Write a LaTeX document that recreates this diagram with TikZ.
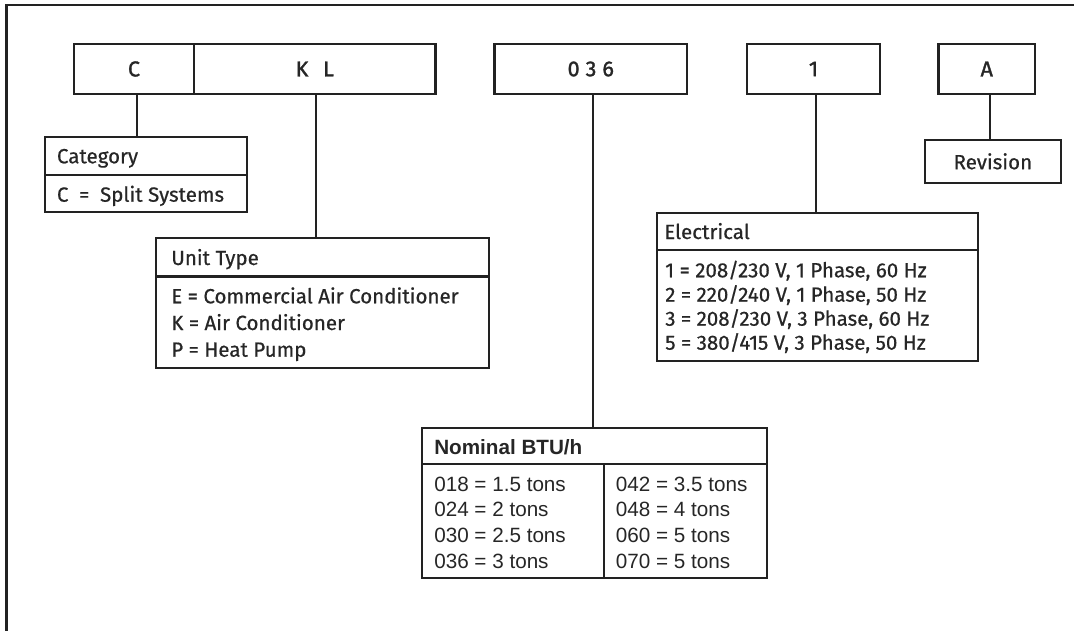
\documentclass[tikz,border=0pt]{standalone}
\usepackage{fontspec}
\setmainfont{Fira Sans}[FakeBold=0.6]
\newfontfamily\topfam{Fira Sans}[FakeBold=1.4]
\newfontfamily\arialf{Liberation Sans}
\definecolor{lc}{HTML}{222222}
\definecolor{tc}{HTML}{262626}
\newcommand\hsf{\fontsize{15.4pt}{18pt}\selectfont}
\newcommand\topf{\topfam\fontsize{16.2pt}{18pt}\selectfont}
\newcommand\arf{\arialf\fontsize{15.5pt}{18pt}\selectfont}
\begin{document}
\begin{tikzpicture}[x=0.75pt,y=-0.75pt,
  box/.style={draw=lc, line width=1.7pt, rectangle, inner sep=0pt, text=tc, font=\hsf},
  topbox/.style={box, font=\topf},
  nbox/.style={draw=lc, line width=1.3pt, rectangle, inner sep=0pt},
  wh/.style 2 args={minimum width=#1*0.75pt, minimum height=#2*0.75pt},
  conn/.style={draw=lc, line width=1.6pt},
  lbl/.style={text=tc, inner sep=0pt, anchor=base west, font=\hsf},
  albl/.style={text=tc, inner sep=0pt, anchor=base west, font=\arf}]
\useasboundingbox (0,0) rectangle (1074,631);
% frame
\draw[lc, line width=2pt] (6.5,640) -- (6.5,5) -- (1080,5);
% top row
\node[topbox, wh={120}{50}] (Cbox) at (134,69) {C};
\node[topbox, wh={241.5}{50}] (KLbox) at (314.75,69) {K\hspace{11pt}L};
\node[topbox, wh={192.5}{50}] (N036) at (590.75,69) {0\hspace{4.5pt}3\hspace{4.5pt}6};
\node[topbox, wh={133}{50}] (N1) at (813.5,69) {1};
\node[topbox, wh={96.5}{50}] (NA) at (986.75,69) {A};
% category
\node[box, wh={202.3}{37.7}] (cathead) at (146.15,156.15) {};
\node[box, wh={202.3}{36.7}] (catbody) at (146.15,193.35) {};
\node[lbl] (cattxt) at (56.7,163.3) {Category};
\node[lbl] (catc) at (56.7,201.7) {C\hspace{8pt}=\hspace{8pt}Split Systems};
% unit type
\node[box, wh={333}{38.5}] (uthead) at (322.5,257.25) {};
\node[box, wh={333}{91.2}] (utbody) at (322.5,322.1) {};
\node[lbl] (uttxt) at (171,265) {Unit Type};
\node[lbl] (ut1) at (171,303.3) {E = Commercial Air Conditioner};
\node[lbl] (ut2) at (171,330) {K = Air Conditioner};
\node[lbl] (ut3) at (171,356.7) {P = Heat Pump};
% revision
\node[box, wh={135.7}{42.7}] (rev) at (992.85,161.35) {Revision};
% electrical
\node[box, wh={321}{36.7}] (elhead) at (817.8,231.65) {};
\node[box, wh={321}{111}] (elbody) at (817.8,305.5) {};
\node[lbl] (eltxt) at (664,239) {Electrical};
\node[lbl] (el1) at (665,277.3) {1 = 208/230 V, 1 Phase, 60 Hz};
\node[lbl] (el2) at (665,301.7) {2 = 220/240 V, 1 Phase, 50 Hz};
\node[lbl] (el3) at (665,325.7) {3 = 208/230 V, 3 Phase, 60 Hz};
\node[lbl] (el4) at (665,349.7) {5 = 380/415 V, 3 Phase, 50 Hz};
% nominal
\node[nbox, wh={344.4}{36.6}] (nomhead) at (594.5,446) {};
\node[nbox, wh={344.4}{114}] (nombody) at (594.5,521.3) {};
\draw[lc, line width=1.3pt] (604.3,0 |- nombody.north) -- (604.3,0 |- nombody.south);
\node[albl, font=\arf\bfseries] (nomtxt) at (434,454) {Nominal BTU/h};
\node[albl] (n1) at (434,491.4) {018 = 1.5 tons};
\node[albl] (n2) at (434,516.4) {024 = 2 tons};
\node[albl] (n3) at (434,542.4) {030 = 2.5 tons};
\node[albl] (n4) at (434,568.4) {036 = 3 tons};
\node[albl] (n5) at (615.7,491.4) {042 = 3.5 tons};
\node[albl] (n6) at (615.7,516.4) {048 = 4 tons};
\node[albl] (n7) at (615.7,542.4) {060 = 5 tons};
\node[albl] (n8) at (615.7,568.4) {070 = 5 tons};
% connectors
\draw[conn] (137.3,0 |- Cbox.south) -- (137.3,0 |- cathead.north);
\draw[conn] (316,0 |- KLbox.south) -- (316,0 |- uthead.north);
\draw[conn] (593.3,0 |- N036.south) -- (593.3,0 |- nomhead.north);
\draw[conn] (816,0 |- N1.south) -- (816,0 |- elhead.north);
\draw[conn] (990,0 |- NA.south) -- (990,0 |- rev.north);
\end{tikzpicture}
\end{document}
